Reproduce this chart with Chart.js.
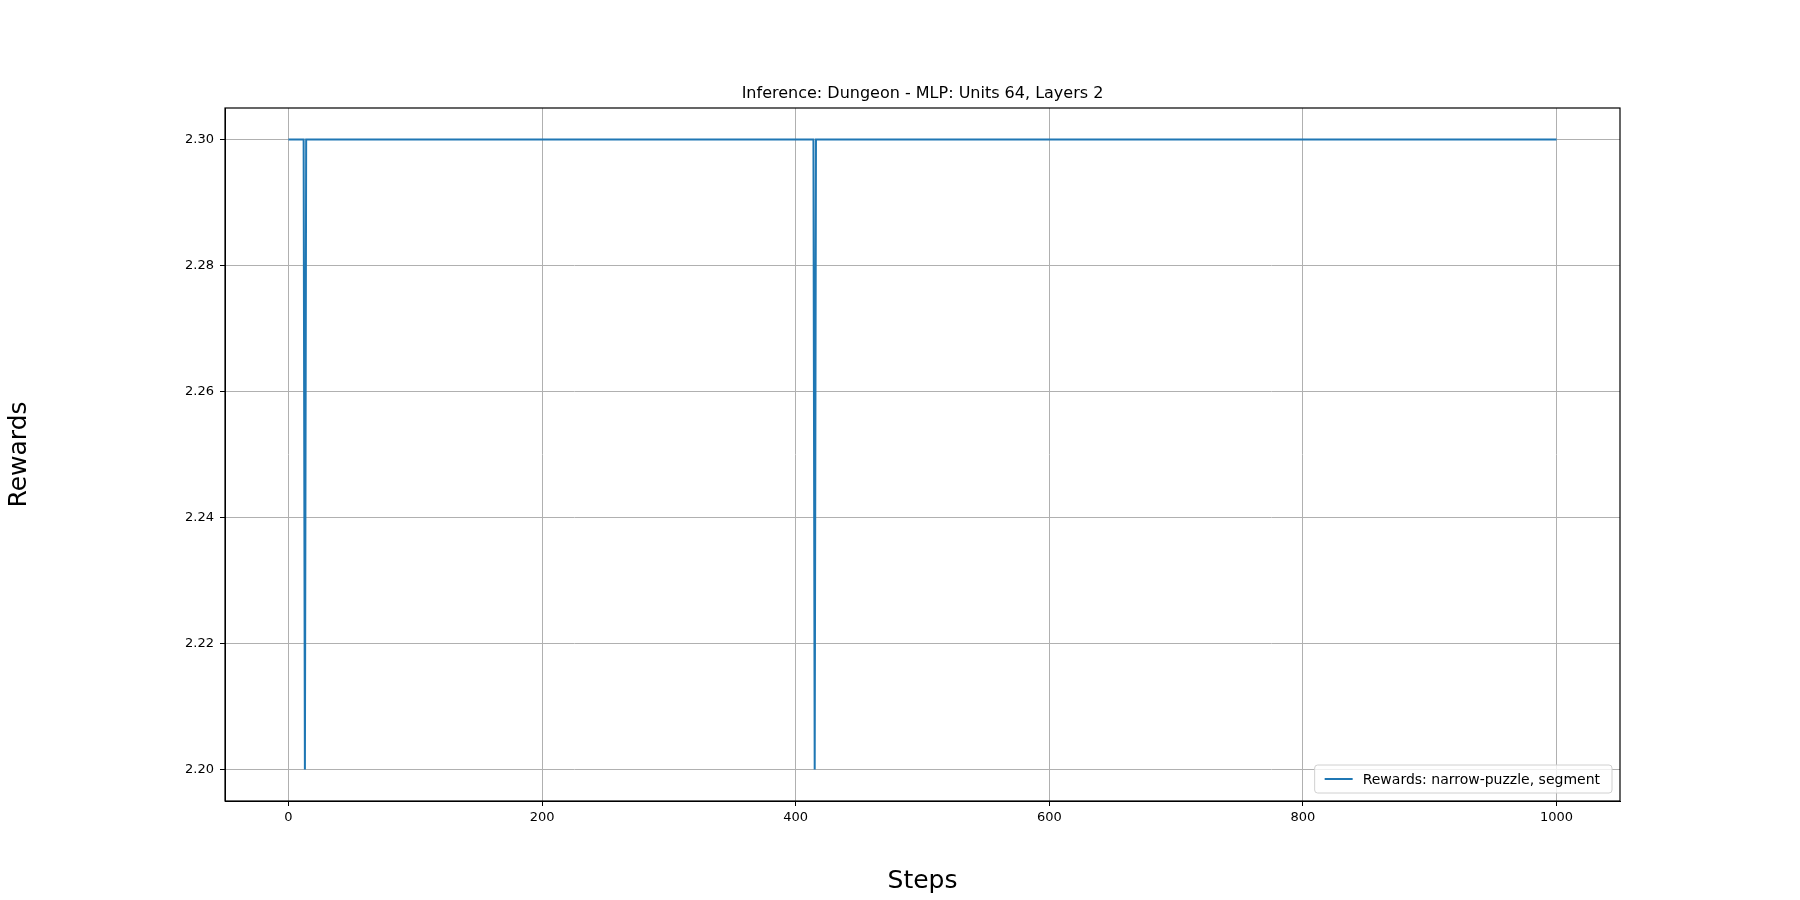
<!DOCTYPE html>
<html><head><meta charset="utf-8">
<script src="https://cdn.jsdelivr.net/npm/chart.js@4"></script>
<style>html,body{margin:0;padding:0;background:#fff}#wrap{width:1800px;height:900px}</style>
</head><body><div id="wrap"><canvas id="c" width="1800" height="900"></canvas></div>
<script>
const stepsX = [0, 12, 13, 14, 414, 415, 416, 1000];
const rewards = [2.30, 2.30, 2.20, 2.30, 2.30, 2.20, 2.30, 2.30];
const xTicks = [0, 200, 400, 600, 800, 1000];
const yTicks = [2.20, 2.22, 2.24, 2.26, 2.28, 2.30];
const titleText = 'Inference: Dungeon - MLP: Units 64, Layers 2';
const seriesLabel = 'Rewards: narrow-puzzle, segment';
const FONT = 'DejaVu Sans';

const extras = {
  id: 'extras',
  afterDraw(chart) {
    const ctx = chart.ctx, a = chart.chartArea;
    ctx.save();
    ctx.strokeStyle = '#000'; ctx.lineWidth = 1.2;
    ctx.strokeRect(a.left, a.top, a.right - a.left, a.bottom - a.top);
    ctx.fillStyle = '#000'; ctx.font = '16px ' + FONT;
    ctx.textAlign = 'center'; ctx.textBaseline = 'bottom';
    ctx.fillText(titleText, (a.left + a.right) / 2, a.top - 6);
    // legend
    ctx.font = '14px ' + FONT;
    const tw = ctx.measureText(seriesLabel).width;
    const w = tw + 60, h = 28;
    const x0 = a.right - 8 - w, y0 = a.bottom - 8 - h;
    ctx.fillStyle = 'rgba(255,255,255,0.8)';
    ctx.strokeStyle = '#d0d0d0'; ctx.lineWidth = 1;
    ctx.beginPath(); ctx.roundRect(x0, y0, w, h, 3); ctx.fill(); ctx.stroke();
    ctx.strokeStyle = '#1f77b4'; ctx.lineWidth = 2;
    ctx.beginPath(); ctx.moveTo(x0 + 10, y0 + h / 2); ctx.lineTo(x0 + 38, y0 + h / 2); ctx.stroke();
    ctx.fillStyle = '#000'; ctx.textAlign = 'left'; ctx.textBaseline = 'middle';
    ctx.fillText(seriesLabel, x0 + 48, y0 + h / 2 + 1);
    ctx.restore();
  }
};

new Chart(document.getElementById('c'), {
  type: 'line',
  data: { datasets: [{ label: seriesLabel,
    data: stepsX.map((x, i) => ({ x, y: rewards[i] })),
    borderColor: '#1f77b4', borderWidth: 2, pointRadius: 0, tension: 0, fill: false }] },
  options: {
    responsive: false, animation: false, devicePixelRatio: 1,
    layout: { padding: { top: 108, right: 180, left: 0, bottom: 0 } },
    plugins: { legend: { display: false }, title: { display: false }, tooltip: { enabled: false } },
    scales: {
      x: { type: 'linear', min: -50, max: 1050,
        afterBuildTicks: s => { s.ticks = xTicks.map(v => ({ value: v })); },
        afterFit: s => { s.height = 99; },
        grid: { color: '#b0b0b0', lineWidth: 1, tickColor: '#000', tickLength: 5 },
        border: { color: '#000' },
        ticks: { color: '#000', font: { family: FONT, size: 13 }, padding: 4, maxRotation: 0, callback: v => String(v) },
        title: { display: true, text: 'Steps', color: '#000', font: { family: FONT, size: 25 }, padding: { top: 8 } } },
      y: { min: 2.195, max: 2.305,
        afterBuildTicks: s => { s.ticks = yTicks.map(v => ({ value: v })); },
        afterFit: s => { s.width = 225; },
        grid: { color: '#b0b0b0', lineWidth: 1, tickColor: '#000', tickLength: 5 },
        border: { color: '#000' },
        ticks: { color: '#000', font: { family: FONT, size: 13 }, padding: 6, callback: v => v.toFixed(2) },
        title: { display: true, text: 'Rewards', color: '#000', font: { family: FONT, size: 25 }, padding: { bottom: 14 } } }
    }
  },
  plugins: [extras]
});
</script></body></html>
